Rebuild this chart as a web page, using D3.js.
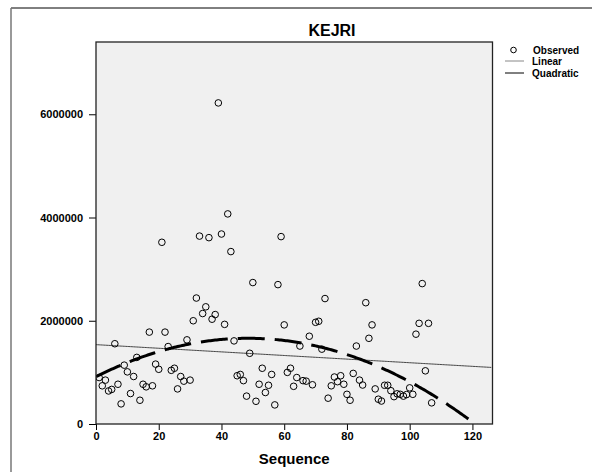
<!DOCTYPE html>
<html lang="en">
  <head>
    <meta charset="utf-8" />
    <script src="https://d3js.org/d3.v7.min.js"></script>
    <style type="text/css">
      body {
        margin: 0;
        background: #ffffff;
      }
      svg text {
        font-family: "Liberation Sans", Arial, sans-serif;
        font-weight: bold;
      }
    </style>
  </head>

  <body>
    <svg id="chart" width="592" height="472"></svg>

    <script>
      // values (in KEJRI units), sequence 1..107
      let sequence = d3.range(1, 108);
      let observed = [
        900000, 740000, 850000, 640000, 670000, 1555000, 770000, 390000, 1140000, 1010000,
        590000, 920000, 1290000, 460000, 770000, 720000, 1780000, 740000, 1160000, 1060000,
        3520000, 1780000, 1500000, 1040000, 1080000, 680000, 920000, 830000, 1630000, 850000,
        2000000, 2440000, 3640000, 2140000, 2270000, 3610000, 2030000, 2120000, 6220000, 3680000,
        1930000, 4070000, 3340000, 1610000, 935000, 960000, 840000, 540000, 1370000, 2740000,
        440000, 770000, 1080000, 610000, 750000, 960000, 370000, 2700000, 3630000, 1920000,
        1000000, 1080000, 730000, 900000, 1510000, 840000, 830000, 1700000, 760000, 1970000,
        1990000, 1450000, 2430000, 500000, 740000, 910000, 820000, 935000, 770000, 575000,
        460000, 980000, 1510000, 850000, 755000, 2350000, 1660000, 1920000, 680000, 480000,
        445000, 750000, 750000, 645000, 530000, 585000, 575000, 540000, 570000, 700000,
        575000, 1740000, 1950000, 2720000, 1030000, 1950000, 410000
      ];
      let xTicks = [0, 20, 40, 60, 80, 100, 120];
      let yTicks = [0, 2000000, 4000000, 6000000];
      let legendLabels = ["Observed", "Linear", "Quadratic"];

      let svg = d3.select("#chart");
      let plotLeft = 96, plotRight = 492.5, plotTop = 42, plotBottom = 424;

      let x = d3.scaleLinear([0, 126.4], [plotLeft, plotRight]);
      let y = d3.scaleLinear([0, 7400000], [plotBottom, plotTop]);

      // least squares fits
      function fit(degree) {
        let n = degree + 1;
        let A = [], B = [];
        for (let i = 0; i < n; i++) {
          A.push(new Array(n).fill(0));
          B.push(0);
        }
        for (let k = 0; k < sequence.length; k++) {
          for (let i = 0; i < n; i++) {
            for (let j = 0; j < n; j++) {
              A[i][j] += Math.pow(sequence[k], i + j);
            }
            B[i] += observed[k] * Math.pow(sequence[k], i);
          }
        }
        // gaussian elimination
        for (let i = 0; i < n; i++) {
          for (let r = i + 1; r < n; r++) {
            let f = A[r][i] / A[i][i];
            for (let c = i; c < n; c++) A[r][c] -= f * A[i][c];
            B[r] -= f * B[i];
          }
        }
        let coef = new Array(n).fill(0);
        for (let i = n - 1; i >= 0; i--) {
          let s = B[i];
          for (let c = i + 1; c < n; c++) s -= A[i][c] * coef[c];
          coef[i] = s / A[i][i];
        }
        return function (t) {
          let v = 0;
          for (let i = 0; i < n; i++) v += coef[i] * Math.pow(t, i);
          return v;
        };
      }

      let linear = fit(1);
      let quadratic = fit(2);

      // outer frame
      svg.append("line").attr("x1", 11).attr("y1", 8).attr("x2", 592).attr("y2", 8)
        .attr("stroke", "#000").attr("stroke-width", 1);
      svg.append("line").attr("x1", 11).attr("y1", 8).attr("x2", 11).attr("y2", 472)
        .attr("stroke", "#777").attr("stroke-width", 1.5);

      // plot background
      svg.append("rect")
        .attr("x", plotLeft).attr("y", plotTop)
        .attr("width", plotRight - plotLeft).attr("height", plotBottom - plotTop)
        .attr("fill", "#f0f0f0");

      svg.append("clipPath").attr("id", "plot-clip")
        .append("rect")
        .attr("x", plotLeft).attr("y", plotTop)
        .attr("width", plotRight - plotLeft).attr("height", plotBottom - plotTop);

      // axes
      let xAxis = svg.append("g")
        .attr("transform", "translate(0," + plotBottom + ")")
        .call(d3.axisBottom(x).tickValues(xTicks).tickSize(6).tickSizeOuter(0).tickPadding(2));
      let yAxis = svg.append("g")
        .attr("transform", "translate(" + plotLeft + ",0)")
        .call(d3.axisLeft(y).tickValues(yTicks).tickFormat(d3.format("d")).tickSize(7).tickSizeOuter(0).tickPadding(6));
      [xAxis, yAxis].forEach(function (g) {
        g.select(".domain").remove();
        g.selectAll("line").attr("stroke", "#000").attr("stroke-width", 1);
        g.selectAll("text")
          .attr("fill", "#000")
          .style("font-size", "11px")
          .style("font-family", "'Liberation Sans', Arial, sans-serif")
          .style("font-weight", "bold");
      });

      let plot = svg.append("g").attr("clip-path", "url(#plot-clip)");

      // linear fit
      let xs = d3.range(0, 126.5, 0.5);
      plot.append("path")
        .datum(xs)
        .attr("d", d3.line().x(function (d) { return x(d); }).y(function (d) { return y(linear(d)); }))
        .attr("fill", "none")
        .attr("stroke", "#444")
        .attr("stroke-width", 1);

      // quadratic fit
      plot.append("path")
        .datum(xs)
        .attr("d", d3.line().x(function (d) { return x(d); }).y(function (d) { return y(quadratic(d)); }))
        .attr("fill", "none")
        .attr("stroke", "#000")
        .attr("stroke-width", 3)
        .attr("stroke-dasharray", "27,10");

      // observed points
      plot.append("g")
        .selectAll("circle")
        .data(sequence)
        .enter()
        .append("circle")
        .attr("cx", function (d) { return x(d); })
        .attr("cy", function (d, i) { return y(observed[i]); })
        .attr("r", 3.3)
        .attr("fill", "none")
        .attr("stroke", "#000")
        .attr("stroke-width", 1);

      // plot border
      svg.append("rect")
        .attr("x", plotLeft).attr("y", plotTop)
        .attr("width", plotRight - plotLeft).attr("height", plotBottom - plotTop)
        .attr("fill", "none")
        .attr("stroke", "#222")
        .attr("stroke-width", 1.3);

      // titles
      svg.append("text")
        .attr("x", 332).attr("y", 36)
        .attr("text-anchor", "middle")
        .style("font-size", "16px")
        .text("KEJRI");
      svg.append("text")
        .attr("x", (plotLeft + plotRight) / 2).attr("y", 464)
        .attr("text-anchor", "middle")
        .style("font-size", "15px")
        .text("Sequence");

      // legend
      let legend = svg.append("g");
      let rowY = [50, 61, 73];
      legend.append("circle").attr("cx", 513.5).attr("cy", rowY[0]).attr("r", 2.8)
        .attr("fill", "none").attr("stroke", "#000").attr("stroke-width", 1);
      legend.append("line").attr("x1", 505).attr("x2", 524).attr("y1", rowY[1]).attr("y2", rowY[1])
        .attr("stroke", "#888").attr("stroke-width", 1);
      legend.append("line").attr("x1", 505).attr("x2", 524).attr("y1", rowY[2]).attr("y2", rowY[2])
        .attr("stroke", "#000").attr("stroke-width", 1);
      legend.selectAll("text")
        .data(legendLabels)
        .enter()
        .append("text")
        .attr("x", function (d, i) { return i === 0 ? 533 : 532; })
        .attr("y", function (d, i) { return rowY[i] + 3.5; })
        .style("font-size", "10px")
        .text(function (d) { return d; });
    </script>
  </body>
</html>
